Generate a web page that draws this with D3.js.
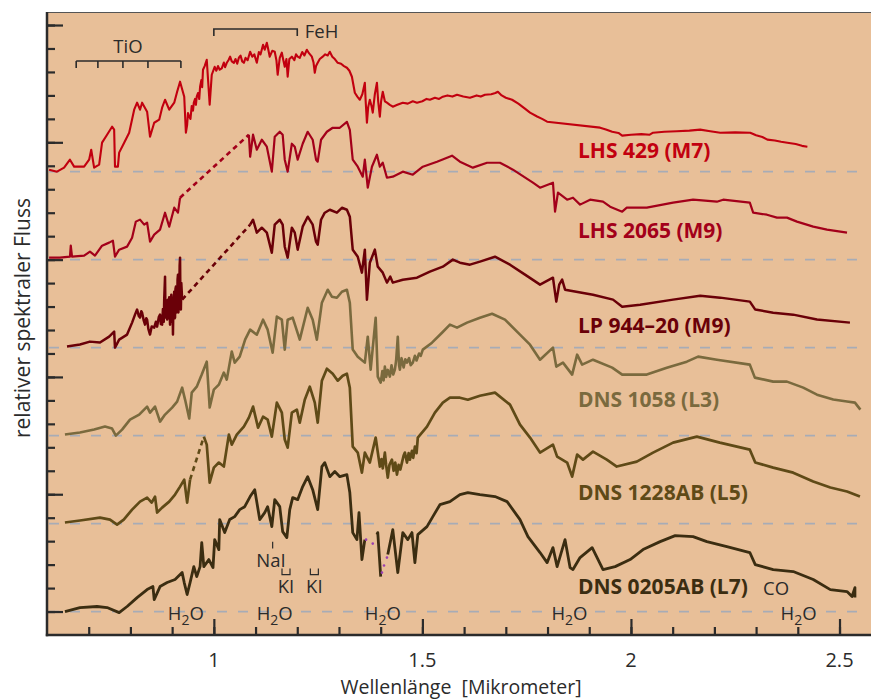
<!DOCTYPE html>
<html><head><meta charset="utf-8">
<script src="https://cdn.jsdelivr.net/npm/d3@7"></script>
<style>body{margin:0;background:#fff} svg{display:block}</style>
</head><body>
<svg id="c" width="871" height="700"></svg>
<script>
// ---- data: wavelength [micrometer], relative flux (above each star's own baseline) ----
const starNames = ["LHS 429 (M7)", "LHS 2065 (M9)", "LP 944\u201320 (M9)", "DNS 1058 (L3)", "DNS 1228AB (L5)", "DNS 0205AB (L7)"];
const offsets = [3.75, 3.0, 2.25, 1.5, 0.75, 0];
const labelPos = [[1.873, 0.119], [1.873, 0.187], [1.873, 0.128], [1.873, 0.247], [1.873, 0.204], [1.873, 0.153]];

const lhs429 = [[
[0.605,0.017],[0.624,0],[0.641,0.034],[0.655,0.102],[0.665,0.043],[0.689,0.043],[0.701,0.102],[0.706,0.187],[0.713,0.034],[0.725,0.060],
[0.732,0.247],[0.744,0.315],[0.756,0.383],[0.761,0.358],[0.763,0.043],[0.770,0.043],[0.773,0.162],[0.785,0.247],[0.797,0.332],[0.809,0.528],
[0.816,0.588],[0.823,0.528],[0.828,0.588],[0.840,0.511],[0.847,0.298],[0.857,0.417],[0.869,0.443],[0.876,0.545],[0.883,0.613],[0.893,0.528],
[0.905,0.588],[0.912,0.681],[0.919,0.767],[0.929,0.639],[0.933,0.332],[0.936,0.40],[0.938,0.50],[0.941,0.468],[0.944,0.45],[0.947,0.56],
[0.950,0.52],[0.952,0.588],[0.955,0.62],[0.957,0.57],[0.959,0.639],[0.962,0.67],[0.965,0.62],[0.967,0.724],[0.970,0.78],[0.972,0.72],
[0.974,0.869],[0.978,0.90],[0.983,0.954],[0.990,0.571],[0.995,0.826],[1.002,0.894],[1.006,0.86],[1.010,0.90],[1.014,0.869],[1.019,0.88],
[1.024,0.93],[1.027,0.89],[1.031,0.928],[1.035,0.95],[1.039,0.980],[1.043,0.94],[1.048,0.928],[1.052,0.96],[1.056,0.92],[1.060,0.971],
[1.064,0.99],[1.068,0.94],[1.072,0.928],[1.076,0.97],[1.081,0.95],[1.087,1.022],[1.092,0.98],[1.097,1.0],[1.103,0.928],[1.108,1.02],
[1.112,1.0],[1.118,1.082],[1.122,1.04],[1.127,1.099],[1.130,1.05],[1.134,0.980],[1.140,1.03],[1.146,1.022],[1.150,0.95],[1.153,0.826],
[1.158,0.97],[1.163,1.014],[1.166,0.96],[1.170,0.894],[1.174,0.96],[1.177,0.809],[1.181,0.96],[1.187,0.980],[1.193,0.95],[1.197,1.0],
[1.201,0.980],[1.206,0.97],[1.212,1.02],[1.217,0.99],[1.223,1.039],[1.228,1.01],[1.235,0.980],[1.239,0.93],[1.242,0.843],[1.245,0.90],
[1.249,0.928],[1.254,0.96],[1.261,0.980],[1.267,1.0],[1.273,0.99],[1.278,1.022],[1.284,0.98],[1.290,0.96],[1.297,0.928],[1.305,0.92],
[1.312,0.90],[1.319,0.886],[1.325,0.86],[1.331,0.809],[1.338,0.673],[1.344,0.64],[1.350,0.613],[1.356,0.66],[1.362,0.758],[1.364,0.60],
[1.367,0.417],[1.370,0.55],[1.374,0.613],[1.378,0.56],[1.381,0.503],[1.386,0.66],[1.391,0.758],[1.394,0.60],[1.398,0.468],[1.401,0.60],
[1.405,0.681],[1.410,0.60],[1.415,0.588],[1.422,0.57],[1.429,0.554],[1.440,0.57],[1.453,0.588],[1.465,0.58],[1.477,0.60],[1.487,0.588],
[1.500,0.60],[1.510,0.62],[1.518,0.613],[1.530,0.63],[1.540,0.62],[1.549,0.639],[1.560,0.65],[1.572,0.64],[1.583,0.656],[1.598,0.64],
[1.614,0.630],[1.630,0.65],[1.640,0.64],[1.650,0.656],[1.665,0.66],[1.675,0.67],[1.681,0.681],[1.690,0.65],[1.700,0.63],[1.715,0.613],
[1.730,0.58],[1.745,0.54],[1.758,0.503],[1.775,0.47],[1.787,0.45],[1.799,0.426],[1.926,0.375],[1.940,0.36],[1.955,0.34],[1.970,0.33],
[1.979,0.307],[2.000,0.315],[2.025,0.32],[2.045,0.315],[2.053,0.332],[2.080,0.34],[2.110,0.345],[2.140,0.35],[2.166,0.358],[2.190,0.345],
[2.214,0.332],[2.250,0.335],[2.286,0.332],[2.300,0.31],[2.315,0.295],[2.327,0.273],[2.345,0.265],[2.360,0.255],[2.375,0.247],[2.395,0.235],
[2.410,0.22],[2.423,0.213]
]];

const lhs2065 = [[
[0.605,0.017],[0.631,0.017],[0.655,0.026],[0.657,0.119],[0.660,0.026],[0.689,0.034],[0.703,0.068],[0.715,0.034],[0.732,0.119],[0.749,0.145],
[0.758,0.162],[0.763,0.026],[0.773,0.085],[0.792,0.111],[0.804,0.187],[0.813,0.324],[0.823,0.341],[0.833,0.298],[0.840,0.315],[0.847,0.153],
[0.857,0.213],[0.871,0.256],[0.883,0.400],[0.893,0.281],[0.905,0.443],[0.914,0.400],[0.919,0.528]
],[
[1.084,1.065],[1.087,0.877],[1.094,1.065],[1.103,0.937],[1.115,1.022],[1.127,0.963],[1.139,0.750],[1.146,1.048],[1.158,1.090],[1.165,1.065],
[1.170,0.852],[1.177,0.750],[1.187,0.988],[1.194,0.963],[1.201,0.852],[1.213,0.988],[1.225,1.090],[1.237,1.022],[1.245,0.852],[1.249,0.835],
[1.257,1.022],[1.271,1.090],[1.285,1.124],[1.302,1.124],[1.319,1.175],[1.326,1.107],[1.333,0.852],[1.345,0.792],[1.357,0.707],[1.362,0.852],
[1.369,0.613],[1.379,0.792],[1.391,0.894],[1.398,0.792],[1.405,0.826],[1.415,0.698],[1.429,0.707],[1.453,0.750],[1.477,0.724],[1.501,0.792],
[1.535,0.835],[1.571,0.886],[1.590,0.835],[1.621,0.784],[1.655,0.826],[1.686,0.826],[1.717,0.767],[1.765,0.656],[1.782,0.613],[1.813,0.656],
[1.818,0.409],[1.825,0.571],[1.847,0.511],[1.861,0.528],[1.878,0.469],[1.902,0.511],[1.933,0.494],[1.950,0.451],[1.979,0.409],[1.990,0.443],
[2.038,0.443],[2.101,0.486],[2.149,0.511],[2.206,0.494],[2.221,0.511],[2.285,0.486],[2.293,0.400],[2.326,0.383],[2.350,0.358],[2.374,0.358],
[2.398,0.324],[2.437,0.281],[2.470,0.256],[2.518,0.230]
]];

const lp944 = [[
[0.648,0.009],[0.679,0.026],[0.703,0.051],[0.727,0.043],[0.749,0.094],[0.761,0.136],[0.763,0],[0.773,0.068],[0.792,0.111],[0.804,0.213],
[0.811,0.281],[0.816,0.324],[0.820,0.27],[0.823,0.256],[0.826,0.31],[0.828,0.298],[0.832,0.23],[0.835,0.196],[0.838,0.25],[0.840,0.239],
[0.843,0.16],[0.847,0.111],[0.851,0.18],[0.857,0.170],[0.861,0.22],[0.864,0.179],[0.868,0.26],[0.871,0.281],[0.873,0.20],[0.876,0.196],
[0.878,0.33],[0.880,0.22],[0.881,0.409],[0.883,0.605],[0.884,0.30],[0.885,0.256],[0.887,0.40],[0.888,0.24],[0.890,0.409],[0.892,0.25],
[0.893,0.43],[0.895,0.196],[0.897,0.38],[0.898,0.451],[0.900,0.22],[0.901,0.40],[0.902,0.111],[0.903,0.36],[0.905,0.477],[0.906,0.25],
[0.907,0.256],[0.908,0.50],[0.909,0.520],[0.910,0.30],[0.912,0.324],[0.913,0.58],[0.914,0.622],[0.915,0.30],[0.917,0.409],[0.918,0.70],
[0.919,0.767],[0.920,0.35],[0.921,0.324],[0.922,0.55],[0.924,0.409]
],[
[1.087,1.048],[1.094,1.090],[1.103,0.980],[1.115,1.022],[1.127,0.980],[1.139,0.809],[1.146,1.048],[1.158,1.090],[1.165,1.048],[1.170,0.860],
[1.177,0.767],[1.187,1.022],[1.194,0.980],[1.201,0.835],[1.213,1.031],[1.225,1.116],[1.237,1.048],[1.245,0.903],[1.249,0.877],[1.257,1.090],
[1.266,1.150],[1.278,1.175],[1.295,1.150],[1.307,1.192],[1.319,1.175],[1.326,1.116],[1.333,0.835],[1.345,0.775],[1.355,0.639],[1.362,0.835],
[1.367,0.409],[1.374,0.724],[1.386,0.835],[1.393,0.690],[1.405,0.639],[1.415,0.554],[1.423,0.605],[1.429,0.554],[1.453,0.579],[1.487,0.596],
[1.518,0.647],[1.549,0.690],[1.573,0.750],[1.590,0.724],[1.614,0.707],[1.638,0.733],[1.674,0.775],[1.710,0.707],[1.746,0.622],[1.782,0.537],
[1.813,0.596],[1.821,0.392],[1.828,0.537],[1.835,0.579],[1.842,0.494],[1.909,0.451],[1.957,0.409],[1.979,0.349],[2.022,0.366],[2.101,0.409],
[2.166,0.443],[2.214,0.426],[2.285,0.392],[2.298,0.324],[2.341,0.298],[2.389,0.281],[2.446,0.239],[2.525,0.213]
]];

const dns1058 = [[
[0.643,0.009],[0.679,0.026],[0.713,0.051],[0.739,0.077],[0.756,0.060],[0.765,0],[0.780,0.051],[0.799,0.136],[0.821,0.179],[0.840,0.247],
[0.847,0.196],[0.859,0.247],[0.871,0.119],[0.883,0.179],[0.900,0.239],[0.912,0.290],[0.924,0.409],[0.931,0.307],[0.941,0.145],[0.947,0.366],
[0.959,0.417],[0.971,0.520],[0.983,0.630],[0.990,0.239],[1.000,0.392],[1.012,0.434],[1.024,0.537],[1.031,0.477],[1.043,0.716],[1.050,0.622],
[1.062,0.673],[1.075,0.818],[1.087,0.903],[1.103,0.860],[1.118,0.988],[1.129,0.903],[1.141,0.707],[1.151,1.014],[1.163,0.988],[1.170,0.733],
[1.177,0.988],[1.189,1.005],[1.206,0.818],[1.225,1.090],[1.237,0.988],[1.247,0.818],[1.259,1.133],[1.273,1.243],[1.283,1.184],[1.295,1.175],
[1.307,1.226],[1.319,1.243],[1.326,1.133],[1.333,0.733],[1.345,0.673],[1.362,0.622],[1.369,0.843],[1.376,0.562],[1.388,1.005],[1.393,0.503],
[1.400,0.451],[1.404,0.55],[1.407,0.47],[1.410,0.588],[1.413,0.50],[1.417,0.56],[1.422,0.503],[1.426,0.60],[1.430,0.52],[1.434,0.562],
[1.437,0.64],[1.441,0.843],[1.444,0.60],[1.446,0.562],[1.450,0.66],[1.455,0.58],[1.459,0.65],[1.463,0.622],[1.468,0.66],[1.472,0.60],
[1.477,0.622],[1.482,0.68],[1.486,0.64],[1.492,0.70],[1.496,0.68],[1.501,0.733],[1.523,0.792],[1.547,0.877],[1.566,0.946],[1.583,0.920],
[1.607,0.963],[1.638,1.005],[1.667,1.039],[1.698,0.988],[1.734,0.860],[1.758,0.775],[1.782,0.647],[1.813,0.750],[1.821,0.588],[1.837,0.622],
[1.859,0.520],[1.871,0.690],[1.883,0.605],[1.909,0.647],[1.955,0.579],[1.979,0.520],[2.038,0.520],[2.086,0.579],[2.134,0.630],[2.161,0.673],
[2.206,0.647],[2.285,0.605],[2.297,0.494],[2.341,0.460],[2.374,0.460],[2.413,0.409],[2.446,0.349],[2.485,0.307],[2.518,0.290],[2.537,0.281],
[2.550,0.221]
]];

const dns1228 = [[
[0.643,0.009],[0.679,0.026],[0.727,0.051],[0.751,0.034],[0.768,-0.009],[0.784,0.034],[0.804,0.119],[0.823,0.187],[0.840,0.221],[0.851,0.179],
[0.859,0.230],[0.864,0.094],[0.876,0.136],[0.893,0.187],[0.907,0.247],[0.919,0.315],[0.929,0.375],[0.936,0.179],[0.943,0.375]
],[
[0.976,0.741],[0.983,0.673],[0.990,0.349],[1.000,0.477],[1.012,0.520],[1.024,0.486],[1.036,0.758],[1.043,0.673],[1.055,0.758],[1.072,0.826],
[1.084,0.903],[1.094,0.997],[1.106,0.818],[1.118,0.911],[1.129,0.886],[1.139,0.741],[1.151,1.031],[1.163,0.946],[1.170,0.716],[1.177,0.647],
[1.187,0.946],[1.199,0.971],[1.206,0.860],[1.218,1.056],[1.230,1.167],[1.242,1.031],[1.249,0.860],[1.259,1.218],[1.271,1.320],[1.285,1.277],
[1.297,1.218],[1.309,1.260],[1.319,1.277],[1.326,1.158],[1.333,0.656],[1.345,0.605],[1.355,0.434],[1.362,0.605],[1.374,0.520],[1.388,0.733],
[1.398,0.486],[1.402,0.55],[1.405,0.47],[1.410,0.605],[1.413,0.50],[1.417,0.392],[1.421,0.50],[1.427,0.545],[1.431,0.45],[1.435,0.52],
[1.439,0.417],[1.443,0.50],[1.447,0.46],[1.451,0.520],[1.455,0.58],[1.458,0.605],[1.463,0.52],[1.467,0.60],[1.470,0.545],[1.475,0.62],
[1.478,0.56],[1.482,0.656],[1.486,0.60],[1.489,0.733],[1.511,0.826],[1.530,0.946],[1.549,1.031],[1.566,1.073],[1.590,1.073],[1.609,1.056],
[1.638,1.090],[1.674,1.116],[1.710,1.014],[1.734,0.843],[1.758,0.733],[1.782,0.605],[1.813,0.673],[1.823,0.571],[1.847,0.520],[1.859,0.400],
[1.871,0.588],[1.885,0.545],[1.909,0.613],[1.942,0.545],[1.966,0.486],[2.014,0.528],[2.053,0.605],[2.101,0.690],[2.158,0.741],[2.213,0.690],
[2.285,0.630],[2.298,0.520],[2.341,0.477],[2.389,0.434],[2.437,0.358],[2.478,0.307],[2.518,0.273],[2.549,0.230]
]];

const dns0205 = [[
[0.643,0],[0.679,0.034],[0.720,0.043],[0.744,0.034],[0.773,-0.009],[0.792,0.043],[0.816,0.119],[0.840,0.187],[0.854,0.213],[0.857,0.102],
[0.871,0.213],[0.888,0.247],[0.907,0.273],[0.924,0.332],[0.929,0.247],[0.936,0.145],[0.943,0.247],[0.952,0.383],[0.959,0.298],[0.967,0.383],
[0.971,0.588],[0.976,0.383],[0.988,0.443],[0.998,0.375],[1.002,0.613],[1.012,0.528],[1.014,0.784],[1.026,0.673],[1.038,0.784],[1.050,0.809],
[1.062,0.869],[1.074,0.894],[1.087,0.980],[1.098,1.039],[1.110,0.784],[1.122,0.843],[1.129,0.894],[1.139,0.724],[1.146,0.954],[1.158,0.894],
[1.165,0.681],[1.175,0.630],[1.182,0.869],[1.189,0.971],[1.201,0.954],[1.213,1.065],[1.225,1.150],[1.237,1.039],[1.249,0.869],[1.259,1.235],
[1.266,1.269],[1.278,1.150],[1.290,1.193],[1.302,1.150],[1.319,1.167],[1.326,1.014],[1.333,0.673],[1.343,0.613],[1.348,0.843],[1.355,0.443],
[1.362,0.613]
],[
[1.391,0.656],[1.393,0.673],[1.397,0.460],[1.400,0.298]
],[
[1.417,0.486],[1.429,0.698],[1.441,0.332],[1.453,0.673],[1.465,0.613],[1.475,0.673],[1.482,0.417],[1.489,0.656],[1.511,0.724],[1.525,0.809],
[1.542,0.911],[1.566,0.937],[1.590,0.997],[1.609,1.014],[1.638,0.997],[1.674,0.980],[1.703,0.937],[1.734,0.784],[1.753,0.639],[1.782,0.503],
[1.799,0.417],[1.813,0.545],[1.823,0.383],[1.842,0.613],[1.854,0.375],[1.861,0.358],[1.878,0.460],[1.907,0.545],[1.933,0.358],[1.962,0.383],
[1.998,0.443],[2.029,0.528],[2.070,0.596],[2.106,0.647],[2.149,0.639],[2.182,0.596],[2.230,0.554],[2.285,0.503],[2.298,0.400],[2.341,0.358],
[2.389,0.341],[2.437,0.273],[2.478,0.187],[2.518,0.170],[2.530,0.128],[2.537,0.204],[2.537,0.119]
]];
const dns0205Dots = [[1.365,0.613],[1.381,0.579],[1.403,0.332],[1.408,0.392],[1.415,0.460]];

const spectra = [lhs429, lhs2065, lp944, dns1058, dns1228, dns0205];

// annotations
const tioTicks = [0.670, 0.722, 0.782, 0.842, 0.921];
const fehTicks = [1.0, 1.2];
const h2oLabels = [0.933, 1.146, 1.405, 1.8525, 2.402];
const kiLabels = [1.173, 1.241];
const xTickMinor = d3.range(7, 26).map(d => d / 10);
const xTickMajor = [1, 1.5, 2, 2.5];
const yTickMinor = d3.range(0, 26).map(d => d / 5);
const yTickMajor = [0, 1, 2, 3, 4, 5];

// ---- styles ----
const colors = ["#c2000f", "#a3001a", "#6a0008", "#7a6a3e", "#5f4a17", "#3b2d11"];
const widths = [2.1, 2.2, 2.5, 2.6, 2.7, 2.8];
const ink = "#2b2b2b";

const svg = d3.select("#c");
const L = 47, T = 12, R = 871, B = 635;
const x = d3.scaleLinear().domain([0.6, 2.5755]).range([L, R]);
const y = d3.scaleLinear().domain([-0.2, 5.111]).range([B, T]);

svg.append("rect").attr("x", L).attr("y", T).attr("width", R - L).attr("height", B - T).attr("fill", "#e8bf98");
svg.append("line").attr("x1", L).attr("x2", R).attr("y1", T + 0.5).attr("y2", T + 0.5).attr("stroke", "#555").attr("stroke-width", 1.2);

// baselines
svg.append("g").selectAll("line").data(offsets).join("line")
  .attr("x1", L + 2).attr("x2", 863).attr("y1", d => y(d)).attr("y2", d => y(d))
  .attr("stroke", "#a7acb6").attr("stroke-width", 1.8).attr("stroke-dasharray", "10,11");

// axes
function tickAxis(axisFn, vals, size, tx, ty) {
  const g = svg.append("g").attr("transform", `translate(${tx},${ty})`)
    .call(axisFn.tickValues(vals).tickSize(size).tickFormat(""));
  g.select(".domain").remove();
  g.selectAll("line").attr("stroke", ink).attr("stroke-width", 2.2);
}
tickAxis(d3.axisRight(y), yTickMinor, 8, L, 0);
tickAxis(d3.axisRight(y), yTickMajor, 16, L, 0);
tickAxis(d3.axisTop(x), xTickMinor, 8, 0, B);
tickAxis(d3.axisTop(x), xTickMajor, 16, 0, B);
svg.append("line").attr("x1", L).attr("x2", L).attr("y1", T).attr("y2", B + 1.2).attr("stroke", ink).attr("stroke-width", 2.5);
svg.append("line").attr("x1", L - 1.2).attr("x2", R).attr("y1", B).attr("y2", B).attr("stroke", ink).attr("stroke-width", 2.5);

const font = "'Open Sans', 'DejaVu Sans', sans-serif";
svg.append("g").selectAll("text").data(xTickMajor).join("text")
  .attr("x", d => x(d)).attr("y", 667).attr("text-anchor", "middle")
  .attr("font-family", font).attr("font-size", 20).attr("fill", ink).text(d => String(d));
svg.append("text").attr("x", 461).attr("y", 694).attr("text-anchor", "middle")
  .attr("font-family", font).attr("font-size", 19.5).attr("fill", ink).attr("xml:space", "preserve")
  .text("Wellenlänge  [Mikrometer]");
svg.append("text").attr("transform", "translate(30,318) rotate(-90)").attr("text-anchor", "middle")
  .attr("font-family", font).attr("font-size", 21).attr("fill", ink).text("relativer spektraler Fluss");

// spectra
const line = d3.line().x(d => x(d[0])).y(d => y(d[1]));
spectra.forEach((segs, i) => {
  const g = svg.append("g");
  const shift = s => s.map(p => [p[0], p[1] + offsets[i]]);
  segs.forEach((seg, k) => {
    g.append("path").attr("d", line(shift(seg))).attr("fill", "none")
      .attr("stroke", colors[i]).attr("stroke-width", widths[i]).attr("stroke-linejoin", "round");
    if (k > 0 && i !== 5) {
      const a = seg[0], b = segs[k - 1][segs[k - 1].length - 1];
      g.append("path").attr("d", line(shift([b, a]))).attr("fill", "none")
        .attr("stroke", colors[i]).attr("stroke-width", 2.6).attr("stroke-dasharray", "5,4");
    }
  });
  svg.append("text").attr("x", x(labelPos[i][0])).attr("y", y(labelPos[i][1] + offsets[i]))
    .attr("font-family", font).attr("font-weight", 700).attr("font-size", 21)
    .attr("fill", colors[i]).text(starNames[i]);
});
svg.append("g").selectAll("circle").data(dns0205Dots).join("circle")
  .attr("cx", d => x(d[0])).attr("cy", d => y(d[1] + offsets[5])).attr("r", 1.3).attr("fill", "#9a3fb0");

// annotations
const ann = svg.append("g").attr("font-family", font).attr("font-size", 18.5).attr("fill", ink);
const tY = 4.693, fY = 4.966, tickLen = 7;
svg.append("path").attr("fill", "none").attr("stroke", ink).attr("stroke-width", 1.6)
  .attr("d", `M${x(tioTicks[0])},${y(tY)}H${x(tioTicks[tioTicks.length - 1])}` +
    tioTicks.map(t => `M${x(t)},${y(tY)}v${tickLen}`).join(""));
svg.append("path").attr("fill", "none").attr("stroke", ink).attr("stroke-width", 1.6)
  .attr("d", `M${x(fehTicks[0])},${y(fY) + tickLen}V${y(fY)}H${x(fehTicks[1])}v${tickLen}`);
ann.append("text").attr("x", x(0.794)).attr("y", y(4.762)).attr("text-anchor", "middle").text("TiO");
ann.append("text").attr("x", x(1.218)).attr("y", y(4.889)).text("FeH");
h2oLabels.forEach(l => {
  const t = ann.append("text").attr("x", x(l)).attr("y", y(-0.07)).attr("text-anchor", "middle");
  t.append("tspan").text("H");
  t.append("tspan").attr("font-size", 14).attr("dy", 5).text("2");
  t.append("tspan").attr("dy", -5).text("O");
});
ann.append("text").attr("x", x(2.348)).attr("y", y(0.145)).attr("text-anchor", "middle").text("CO");
ann.append("text").attr("x", x(1.137)).attr("y", y(0.383)).attr("text-anchor", "middle").text("NaI");
svg.append("line").attr("x1", x(1.141)).attr("x2", x(1.141)).attr("y1", y(0.596)).attr("y2", y(0.537))
  .attr("stroke", ink).attr("stroke-width", 1.2);
kiLabels.forEach(l => {
  ann.append("text").attr("x", x(l)).attr("y", y(0.155)).attr("text-anchor", "middle").text("KI");
  svg.append("path").attr("fill", "none").attr("stroke", ink).attr("stroke-width", 1.2)
    .attr("d", `M${x(l) - 4},${y(0.366)}V${y(0.315)}H${x(l) + 4}V${y(0.366)}`);
});
</script>
</body></html>
